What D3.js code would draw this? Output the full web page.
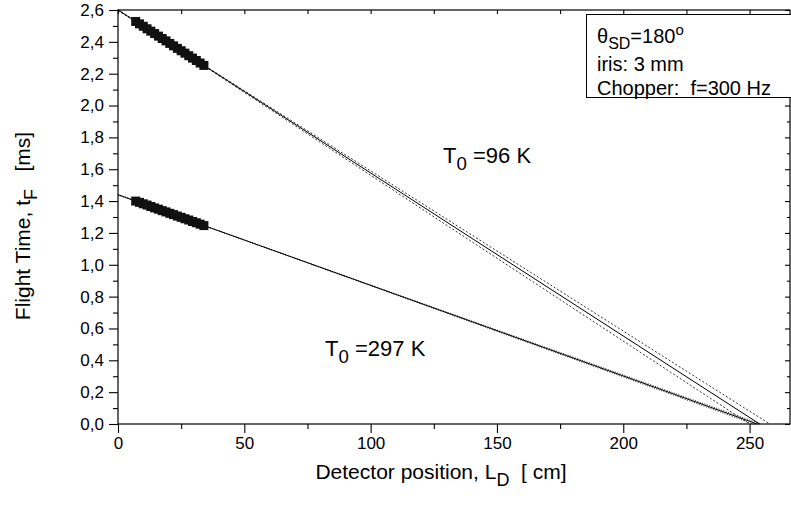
<!DOCTYPE html>
<html><head><meta charset="utf-8">
<script src="https://cdn.jsdelivr.net/npm/d3@7"></script>
<style>
body{margin:0;background:#fff;}
svg{display:block;font-family:"Liberation Sans",Arial,sans-serif;}
</style></head><body>
<svg id="c" width="791" height="506"></svg>
<script>
// ---- data ----
const xPts = [7, 8.5, 10, 11.5, 13, 14.5, 16, 17.5, 19, 20.5, 22, 23.5, 25, 26.5, 28, 29.5, 31, 32.5, 34];
const yPts96 = [2.528, 2.513, 2.498, 2.482, 2.467, 2.452, 2.436, 2.421, 2.406, 2.390, 2.375, 2.359, 2.344, 2.329, 2.313, 2.298, 2.283, 2.267, 2.252];
const yPts297 = [1.400, 1.392, 1.383, 1.375, 1.366, 1.357, 1.349, 1.340, 1.332, 1.323, 1.315, 1.306, 1.298, 1.289, 1.281, 1.272, 1.264, 1.255, 1.246];
// fit lines [x, y] endpoints
const fit96 = [[0, 2.60], [254, 0]];
const band96Hi = [[0, 2.596], [258, 0]];
const band96Lo = [[0, 2.603], [250, 0]];
const fit297 = [[0, 1.44], [253, 0]];
const band297Hi = [[0, 1.438], [254.5, 0]];
const band297Lo = [[0, 1.442], [251.5, 0]];
const xTicks = [0, 50, 100, 150, 200, 250];
const xMinor = [25, 75, 125, 175, 225];
const yTicks = [0, 0.2, 0.4, 0.6, 0.8, 1.0, 1.2, 1.4, 1.6, 1.8, 2.0, 2.2, 2.4, 2.6];
const yMinor = [0.1, 0.3, 0.5, 0.7, 0.9, 1.1, 1.3, 1.5, 1.7, 1.9, 2.1, 2.3, 2.5];
const legendLines = ["θSD=180o", "iris: 3 mm", "Chopper:  f=300 Hz"];

const svg = d3.select("#c");
const L = 118, T = 10, R = 790, B = 424;
const x = d3.scaleLinear().domain([0, 266]).range([L, R]);
const y = d3.scaleLinear().domain([0, 2.6]).range([B, T]);
const fmt = d => d3.format(".1f")(d).replace(".", ",");

// frame
svg.append("rect").attr("x", L).attr("y", T).attr("width", R - L).attr("height", B - T)
  .attr("fill", "none").attr("stroke", "#000").attr("stroke-width", 1.2);

// axes
svg.append("g").attr("transform", `translate(0,${B})`)
  .call(d3.axisBottom(x).tickValues(xTicks).tickFormat(d3.format("d")).tickSize(9).tickPadding(4));
svg.append("g").attr("transform", `translate(0,${B})`)
  .call(d3.axisBottom(x).tickValues(xMinor).tickFormat("").tickSize(5));
svg.append("g").attr("transform", `translate(0,${T})`)
  .call(d3.axisBottom(x).tickValues(xTicks.concat(xMinor)).tickFormat("").tickSize(4));
svg.append("g").attr("transform", `translate(${L},0)`)
  .call(d3.axisLeft(y).tickValues(yTicks).tickFormat(fmt).tickSize(9).tickPadding(5));
svg.append("g").attr("transform", `translate(${L},0)`)
  .call(d3.axisLeft(y).tickValues(yMinor).tickFormat("").tickSize(5));
svg.append("g").attr("transform", `translate(${R},0)`)
  .call(d3.axisLeft(y).tickValues(yTicks).tickFormat("").tickSize(5));
svg.append("g").attr("transform", `translate(${R},0)`)
  .call(d3.axisLeft(y).tickValues(yMinor).tickFormat("").tickSize(3));
svg.selectAll(".domain").remove();
svg.selectAll(".tick line").attr("stroke", "#000").attr("stroke-width", 1.1);
svg.selectAll(".tick text").attr("font-size", 17).attr("fill", "#000")
  .attr("font-family", "'Liberation Sans',Arial,sans-serif");

// lines
const line = d3.line().x(d => x(d[0])).y(d => y(d[1]));
[[band96Hi, "2,2"], [band96Lo, "2,2"], [band297Hi, "1,1.5"], [band297Lo, "1,1.5"]].forEach(([d, dash]) => {
  svg.append("path").attr("d", line(d)).attr("fill", "none").attr("stroke", "#000")
    .attr("stroke-width", 0.8).attr("stroke-dasharray", dash);
});
[fit96, fit297].forEach(d => {
  svg.append("path").attr("d", line(d)).attr("fill", "none").attr("stroke", "#000").attr("stroke-width", 1);
});

// points
const s = 9;
[yPts96, yPts297].forEach(ys => {
  svg.append("g").selectAll("rect").data(xPts.map((v, i) => [v, ys[i]])).join("rect")
    .attr("x", d => x(d[0]) - s / 2).attr("y", d => y(d[1]) - s / 2)
    .attr("width", s).attr("height", s).attr("fill", "#111");
});

// annotations
function label(tx, ty, main, sub, rest, size) {
  const t = svg.append("text").attr("x", tx).attr("y", ty).attr("font-size", size).attr("fill", "#000");
  t.append("tspan").text(main);
  t.append("tspan").attr("dy", size * 0.3).attr("font-size", size * 0.85).text(sub);
  t.append("tspan").attr("dy", -size * 0.3).text(rest);
  return t;
}
label(443, 163, "T", "0", " =96 K", 22);
label(325, 356, "T", "0", " =297 K", 22);

// legend box
svg.append("rect").attr("x", 586.5).attr("y", 14.5).attr("width", 210).attr("height", 83)
  .attr("fill", "#fff").attr("stroke", "#000").attr("stroke-width", 1);
const fs = 20;
const lg = svg.append("text").attr("x", 597).attr("y", 43).attr("font-size", fs);
lg.append("tspan").text(legendLines[0].slice(0, 1));
lg.append("tspan").attr("dy", 6).attr("font-size", 16).text(legendLines[0].slice(1, 3));
lg.append("tspan").attr("dy", -6).text(legendLines[0].slice(3, 7));
lg.append("tspan").attr("dy", -8).attr("font-size", 15).text(legendLines[0].slice(7));
svg.append("text").attr("x", 597).attr("y", 71).attr("font-size", fs).text(legendLines[1]);
svg.append("text").attr("x", 597).attr("y", 95).attr("font-size", fs)
  .attr("xml:space", "preserve").text(legendLines[2]);

// axis titles
const xt = svg.append("text").attr("x", 441).attr("y", 479).attr("text-anchor", "middle")
  .attr("font-size", 21).attr("xml:space", "preserve");
xt.append("tspan").text("Detector position, L");
xt.append("tspan").attr("dy", 7).attr("font-size", 18).text("D");
xt.append("tspan").attr("dy", -7).text("  [ cm]");
const yt = svg.append("text").attr("transform", "translate(30,226) rotate(-90)")
  .attr("text-anchor", "middle").attr("font-size", 21).attr("xml:space", "preserve");
yt.append("tspan").text("Flight Time, t");
yt.append("tspan").attr("dy", 7).attr("font-size", 18).text("F");
yt.append("tspan").attr("dy", -7).text("   [ms]");
</script>
</body></html>
